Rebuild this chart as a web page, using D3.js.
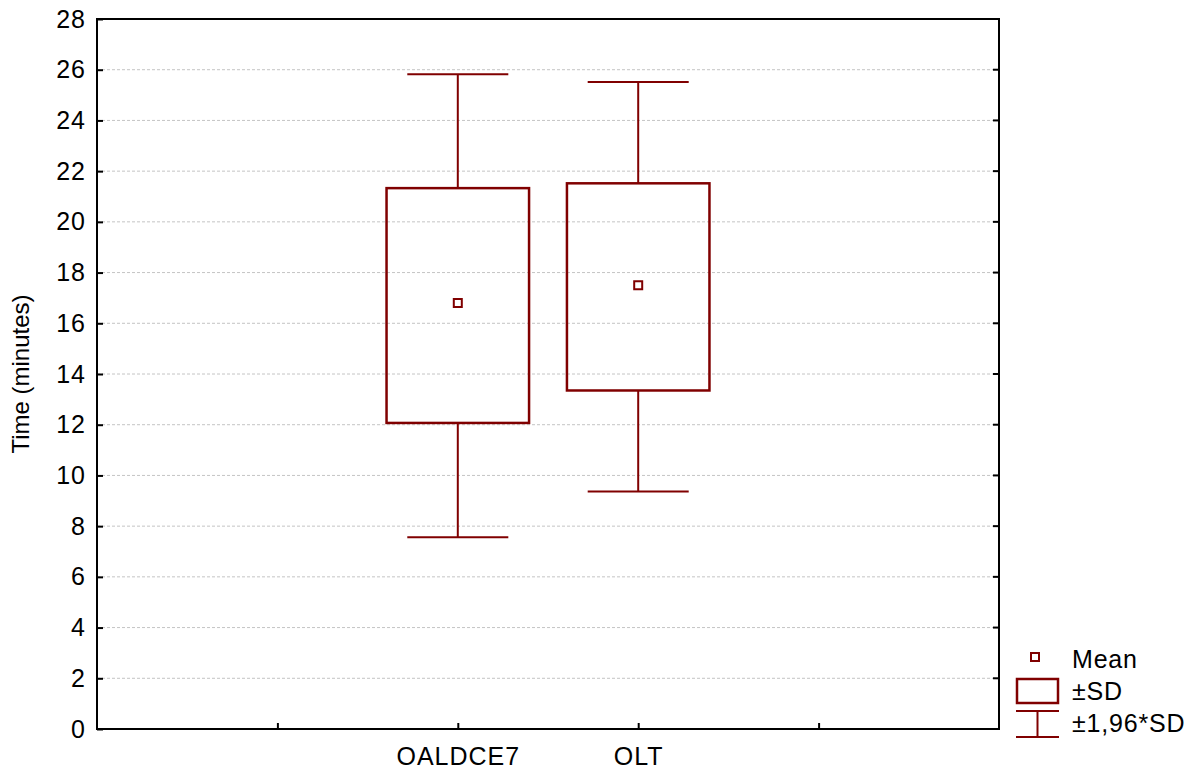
<!DOCTYPE html>
<html>
<head>
<meta charset="utf-8">
<script src="https://cdn.jsdelivr.net/npm/d3@7"></script>
<style>
body { margin: 0; background: #fff; }
text { font-family: "Liberation Sans", Arial, sans-serif; fill: #000; }
</style>
</head>
<body>
<svg id="chart" width="1196" height="769"></svg>
<script>
const categories = ["OALDCE7", "OLT"];
const means = [16.8, 17.5];
const sdLow = [12.07, 13.35];
const sdHigh = [21.33, 21.52];
const ciLow = [7.56, 9.37];
const ciHigh = [25.82, 25.52];
const yTicks = d3.range(0, 29, 2);
const legendLabels = ["Mean", "±SD", "±1,96*SD"];

const totalWidth = 1196;
const totalHeight = 769;
const margin = { left: 97, right: 197, top: 19, bottom: 40 };
const width = totalWidth - margin.left - margin.right;
const height = totalHeight - margin.top - margin.bottom;
const dark = "#800000";

const svg = d3.select("#chart");
const g = svg.append("g").attr("transform", `translate(${margin.left},${margin.top})`);

// slots 0..5, categories sit at 2 and 3
const x = d3.scaleLinear().domain([0, 5]).range([0, width]);
const y = d3.scaleLinear().domain([0, 28]).range([height, 0]);
const step = x(1) - x(0);
const boxW = step * 0.79;
const capW = step * 0.56;

// grid
g.append("g")
	.selectAll("line")
	.data(yTicks.filter((d) => d > 0 && d < 28))
	.join("line")
	.attr("x1", 0)
	.attr("x2", width)
	.attr("y1", (d) => y(d))
	.attr("y2", (d) => y(d))
	.attr("stroke", "#c4c4c4")
	.attr("stroke-width", 1)
	.attr("stroke-dasharray", "3,2");

// y axis
const yAxis = g.append("g").call(d3.axisLeft(y).tickValues(yTicks).tickSize(-6).tickPadding(11));
yAxis.select(".domain").remove();
yAxis.selectAll(".tick line").attr("stroke", "#000").attr("stroke-width", 2);
yAxis.selectAll(".tick text")
	.attr("font-size", 25)
	.attr("letter-spacing", 1)
	.attr("font-family", "Liberation Sans, Arial, sans-serif")
	.attr("fill", "#000");

// right ticks
g.append("g")
	.selectAll("line")
	.data(yTicks)
	.join("line")
	.attr("x1", width)
	.attr("x2", width - 6)
	.attr("y1", (d) => y(d))
	.attr("y2", (d) => y(d))
	.attr("stroke", "#000")
	.attr("stroke-width", 2);

// x axis
const xAxis = g
	.append("g")
	.attr("transform", `translate(0,${height})`)
	.call(d3.axisBottom(x).tickValues([1, 2, 3, 4]).tickSize(-6).tickPadding(18).tickFormat((d) => categories[d - 2] || ""));
xAxis.select(".domain").remove();
xAxis.selectAll(".tick line").attr("stroke", "#000").attr("stroke-width", 2);
xAxis.selectAll(".tick text")
	.attr("font-size", 25)
	.attr("letter-spacing", 1)
	.attr("font-family", "Liberation Sans, Arial, sans-serif")
	.attr("fill", "#000");

// frame
g.append("rect")
	.attr("width", width)
	.attr("height", height)
	.attr("fill", "none")
	.attr("stroke", "#000")
	.attr("stroke-width", 2);

// y title
g.append("text")
	.attr("transform", `translate(${-68},${height / 2}) rotate(-90)`)
	.attr("text-anchor", "middle")
	.attr("font-size", 24)
	.text("Time (minutes)");

// boxes
const boxes = g
	.selectAll(".box")
	.data(categories)
	.join("g")
	.attr("class", "box")
	.attr("transform", (d, i) => `translate(${x(i + 2)},0)`);

boxes.append("line")
	.attr("y1", (d, i) => y(ciHigh[i]))
	.attr("y2", (d, i) => y(sdHigh[i]))
	.attr("stroke", dark)
	.attr("stroke-width", 2);
boxes.append("line")
	.attr("y1", (d, i) => y(sdLow[i]))
	.attr("y2", (d, i) => y(ciLow[i]))
	.attr("stroke", dark)
	.attr("stroke-width", 2);
boxes.append("line")
	.attr("x1", -capW / 2)
	.attr("x2", capW / 2)
	.attr("y1", (d, i) => y(ciHigh[i]))
	.attr("y2", (d, i) => y(ciHigh[i]))
	.attr("stroke", dark)
	.attr("stroke-width", 2);
boxes.append("line")
	.attr("x1", -capW / 2)
	.attr("x2", capW / 2)
	.attr("y1", (d, i) => y(ciLow[i]))
	.attr("y2", (d, i) => y(ciLow[i]))
	.attr("stroke", dark)
	.attr("stroke-width", 2);
boxes.append("rect")
	.attr("x", -boxW / 2)
	.attr("width", boxW)
	.attr("y", (d, i) => y(sdHigh[i]))
	.attr("height", (d, i) => y(sdLow[i]) - y(sdHigh[i]))
	.attr("fill", "none")
	.attr("stroke", dark)
	.attr("stroke-width", 2.5);
boxes.append("rect")
	.attr("x", -4)
	.attr("width", 8)
	.attr("y", (d, i) => y(means[i]) - 4)
	.attr("height", 8)
	.attr("fill", "#fff")
	.attr("stroke", dark)
	.attr("stroke-width", 2);

// legend
const lg = svg.append("g").attr("transform", "translate(1016,0)");
lg.append("rect").attr("x", 15).attr("y", 653).attr("width", 8).attr("height", 8).attr("fill", "#fff").attr("stroke", dark).attr("stroke-width", 2);
lg.append("rect").attr("x", 1).attr("y", 679).attr("width", 41).attr("height", 24).attr("fill", "none").attr("stroke", dark).attr("stroke-width", 2.5);
lg.append("line").attr("x1", 0).attr("x2", 43).attr("y1", 711).attr("y2", 711).attr("stroke", dark).attr("stroke-width", 2);
lg.append("line").attr("x1", 0).attr("x2", 43).attr("y1", 737).attr("y2", 737).attr("stroke", dark).attr("stroke-width", 2);
lg.append("line").attr("x1", 21.5).attr("x2", 21.5).attr("y1", 711).attr("y2", 737).attr("stroke", dark).attr("stroke-width", 2);
lg.selectAll(".lt")
	.data(legendLabels)
	.join("text")
	.attr("class", "lt")
	.attr("x", 56)
	.attr("y", (d, i) => 668 + i * 32)
	.attr("font-size", 25)
	.attr("letter-spacing", 0.8)
	.text((d) => d);
</script>
</body>
</html>
